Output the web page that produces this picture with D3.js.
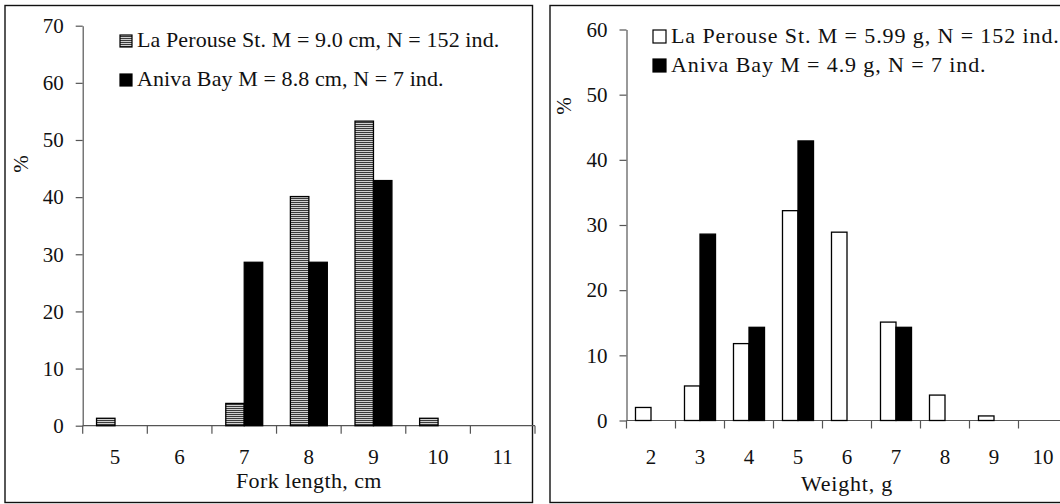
<!DOCTYPE html>
<html>
<head>
<meta charset="utf-8">
<script src="https://cdn.jsdelivr.net/npm/d3@7"></script>
<style>
  html, body { margin: 0; padding: 0; background: #fff; }
  svg { display: block; }
  text { font-family: "Liberation Serif", "Times New Roman", serif; fill: #111; }
</style>
</head>
<body>
<svg id="chart" width="1060" height="504"></svg>
<script>
// Fork length distribution (% of individuals per 1 cm class)
const lengthClasses = ["5", "6", "7", "8", "9", "10", "11"];
const lengthLaPerouse = [1.3, 0, 3.9, 40.1, 53.3, 1.3, 0];
const lengthAniva = [0, 0, 28.6, 28.6, 42.9, 0, 0];
const lengthTicks = [0, 10, 20, 30, 40, 50, 60, 70];

// Weight distribution (% of individuals per 1 g class)
const weightClasses = ["2", "3", "4", "5", "6", "7", "8", "9", "10"];
const weightLaPerouse = [2.0, 5.3, 11.8, 32.2, 28.9, 15.1, 3.9, 0.7, 0];
const weightAniva = [0, 28.6, 14.3, 42.9, 0, 14.3, 0, 0, 0];
const weightTicks = [0, 10, 20, 30, 40, 50, 60];

const seriesNames = ["La Perouse", "Aniva"];
const lengthLegend = ["La Perouse St. M = 9.0 cm, N = 152 ind.", "Aniva Bay M = 8.8 cm, N = 7 ind."];
const weightLegend = ["La Perouse St. M = 5.99 g, N = 152 ind.", "Aniva Bay M = 4.9 g, N = 7 ind."];

const FONT = "Liberation Serif";
const svg = d3.select("#chart");
svg.append("rect").attr("width", 1060).attr("height", 504).attr("fill", "#fff");

// horizontal hatching used for the La Perouse bars of the length panel
const defs = svg.append("defs");
const pat = defs.append("pattern")
  .attr("id", "hstripe")
  .attr("patternUnits", "userSpaceOnUse")
  .attr("width", 4).attr("height", 2);
pat.append("rect").attr("width", 4).attr("height", 2).attr("fill", "#d0d0d0");
pat.append("rect").attr("width", 4).attr("height", 1).attr("fill", "#3a3a3a");

const AXIS = "#555";

function panel(cfg) {
  const g = svg.append("g");

  // frame around the panel
  g.append("rect")
    .attr("x", cfg.frame[0]).attr("y", cfg.frame[1])
    .attr("width", cfg.frame[2]).attr("height", cfg.frame[3])
    .attr("fill", "none").attr("stroke", "#111").attr("stroke-width", 1.4);

  const x = d3.scaleBand().domain(cfg.classes).range(cfg.xRange).padding(0);
  const sub = d3.scaleBand().domain(seriesNames).range([0, x.bandwidth()])
    .paddingInner(0).paddingOuter(cfg.outer);
  const y = d3.scaleLinear().domain([0, d3.max(cfg.ticks)]).range(cfg.yRange);

  // y axis
  const ya = g.append("g")
    .attr("transform", `translate(${cfg.xRange[0]},0)`)
    .call(d3.axisLeft(y).tickValues(cfg.ticks).tickSize(7).tickSizeOuter(0).tickPadding(12));
  ya.attr("font-family", FONT);
  ya.select(".domain").attr("stroke", AXIS).attr("stroke-width", 1.2);
  ya.selectAll(".tick line").attr("stroke", AXIS).attr("stroke-width", 1.2);
  ya.selectAll(".tick text").attr("font-size", 21).attr("font-family", FONT).attr("fill", "#111");

  // x axis: line, class boundary ticks and centred labels
  const y0 = y(0);
  const bounds = cfg.classes.map(c => x(c)).concat([x.range()[1]]);
  g.append("line")
    .attr("x1", cfg.xRange[0]).attr("x2", cfg.xRange[1])
    .attr("y1", y0).attr("y2", y0)
    .attr("stroke", AXIS).attr("stroke-width", 1.2);
  g.selectAll(".btick").data(bounds).join("line")
    .attr("x1", d => d).attr("x2", d => d)
    .attr("y1", y0).attr("y2", y0 + 8)
    .attr("stroke", AXIS).attr("stroke-width", 1.2);
  g.selectAll(".xlab").data(cfg.classes).join("text")
    .attr("x", d => x(d) + x.bandwidth() / 2)
    .attr("y", y0 + cfg.labelDy)
    .attr("text-anchor", "middle")
    .attr("font-family", FONT)
    .attr("font-size", 21)
    .text(d => d);

  // bars
  const rows = cfg.classes.map((c, i) => ({ c, vals: [cfg.a[i], cfg.b[i]] }));
  rows.forEach(r => {
    r.vals.forEach((v, k) => {
      if (v <= 0) return;
      g.append("rect")
        .attr("x", x(r.c) + sub(seriesNames[k]))
        .attr("y", y(v))
        .attr("width", sub.bandwidth())
        .attr("height", y0 - y(v))
        .attr("fill", k === 0 ? cfg.fillA : "#000")
        .attr("stroke", "#000")
        .attr("stroke-width", 1.3);
    });
  });

  // axis titles
  g.append("text")
    .attr("x", (cfg.xRange[0] + cfg.xRange[1]) / 2)
    .attr("y", cfg.titleY)
    .attr("text-anchor", "middle")
    .attr("font-family", FONT)
    .attr("font-size", 22)
    .attr("letter-spacing", cfg.titleSpacing)
    .text(cfg.xTitle);
  g.append("text")
    .attr("transform", `translate(${cfg.pctPos[0]},${cfg.pctPos[1]}) rotate(-90)`)
    .attr("text-anchor", "middle")
    .attr("font-family", FONT)
    .attr("font-size", 21)
    .text("%");

  // legend
  cfg.legend.forEach((t, k) => {
    const ly = cfg.legendY[k];
    g.append("rect")
      .attr("x", cfg.legendX).attr("y", ly - cfg.sq)
      .attr("width", cfg.sq).attr("height", cfg.sq)
      .attr("fill", k === 0 ? cfg.fillA : "#000")
      .attr("stroke", "#000").attr("stroke-width", 1.2);
    g.append("text")
      .attr("x", cfg.legendX + cfg.sq + 5)
      .attr("y", ly)
      .attr("font-family", FONT)
      .attr("font-size", 22)
      .attr("letter-spacing", cfg.legendSpacing)
      .text(t);
  });
}

panel({
  frame: [5, 5.5, 527.5, 497],
  classes: lengthClasses, a: lengthLaPerouse, b: lengthAniva, ticks: lengthTicks,
  xRange: [82.7, 535], yRange: [425.7, 25.7], outer: 0.75,
  fillA: "url(#hstripe)", labelDy: 38, titleY: 488, xTitle: "Fork length, cm", titleSpacing: 0.4,
  pctPos: [28, 164], legend: lengthLegend, legendX: 120, legendY: [47, 86], sq: 12,
  legendSpacing: 0.1
});

panel({
  frame: [550, 5.5, 530, 497],
  classes: weightClasses, a: weightLaPerouse, b: weightAniva, ticks: weightTicks,
  xRange: [626.5, 1067.5], yRange: [420.5, 29.5], outer: 0.58,
  fillA: "#fff", labelDy: 43, titleY: 491, xTitle: "Weight, g", titleSpacing: 0.8,
  pctPos: [571, 106], legend: weightLegend, legendX: 653, legendY: [43, 72], sq: 13,
  legendSpacing: 0.9
});
</script>
</body>
</html>
